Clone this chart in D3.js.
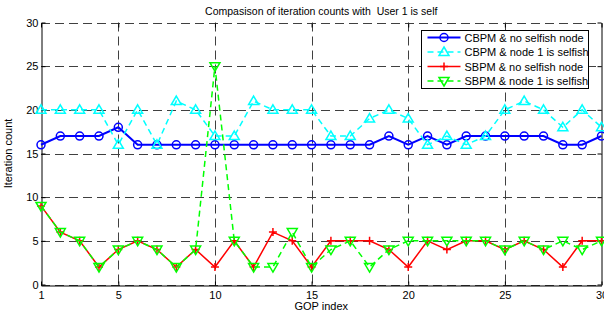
<!DOCTYPE html>
<html>
<head>
<meta charset="utf-8">
<script src="https://cdn.jsdelivr.net/npm/d3@7/dist/d3.min.js"></script>
<style>
  body { margin: 0; background: #fff; }
  svg { font-family: "Liberation Sans", Arial, sans-serif; }
</style>
</head>
<body>
<div id="chart"></div>
<script>
var gopIndex = d3.range(1, 31);
var cbpmNoSelfish = [16,17,17,17,18,16,16,16,16,16,16,16,16,16,16,16,16,16,17,16,17,16,17,17,17,17,17,16,16,17];
var cbpmSelfish   = [20,20,20,20,16,20,16,21,20,17,17,21,20,20,20,17,17,19,20,19,16,17,16,17,20,21,20,18,20,18];
var sbpmNoSelfish = [9,6,5,2,4,5,4,2,4,2,5,2,6,5,2,5,5,5,4,2,5,4,5,5,4,5,4,2,5,5];
var sbpmSelfish   = [9,6,5,2,4,5,4,2,4,25,5,2,2,6,2,4,5,2,4,5,5,5,5,5,4,5,4,5,4,5];
var xTicks = [1,5,10,15,20,25,30];
var yTicks = [0,5,10,15,20,25,30];

var series = [
    { name: "CBPM & no selfish node",  values: cbpmNoSelfish, color: "#0000ff", dash: null,  width: 2,   marker: "circle" },
    { name: "CBPM & node 1 is selfish", values: cbpmSelfish,  color: "#00ffff", dash: "6,4", width: 1.5, marker: "up" },
    { name: "SBPM & no selfish node",  values: sbpmNoSelfish, color: "#ff0000", dash: null,  width: 1.5, marker: "plus" },
    { name: "SBPM & node 1 is selfish", values: sbpmSelfish,  color: "#00ff00", dash: "6,4", width: 1.5, marker: "down" }
];

var W = 604, H = 316;
var margin = { left: 41, right: 2.5, top: 22.5, bottom: 31.5 };

var svg = d3.select("#chart").append("svg")
    .attr("width", W).attr("height", H);

var x = d3.scaleLinear().domain([1, 30]).range([margin.left, W - margin.right]);
var y = d3.scaleLinear().domain([0, 30]).range([H - margin.bottom, margin.top]);

// grid
var grid = svg.append("g").attr("class", "grid")
    .attr("stroke", "#111").attr("stroke-width", 1).attr("stroke-dasharray", "9,5").attr("opacity", 0.8);
grid.selectAll("line.gx").data(xTicks.slice(1, -1)).enter().append("line")
    .attr("x1", function(d){ return Math.round(x(d)) + 0.5; })
    .attr("x2", function(d){ return Math.round(x(d)) + 0.5; })
    .attr("y1", y(30)).attr("y2", y(0));
grid.selectAll("line.gy").data(yTicks).enter().append("line")
    .attr("y1", function(d){ return Math.round(y(d)) + 0.5; })
    .attr("y2", function(d){ return Math.round(y(d)) + 0.5; })
    .attr("x1", x(1)).attr("x2", x(30));

// axes
var xAxis = d3.axisBottom(x).tickValues(xTicks).tickSizeInner(-4).tickSizeOuter(0).tickPadding(6);
var yAxis = d3.axisLeft(y).tickValues(yTicks).tickSizeInner(-4).tickSizeOuter(0).tickPadding(4);

var gx = svg.append("g").attr("transform", "translate(0," + (Math.round(y(0)) + 0.5) + ")").call(xAxis);
var gy = svg.append("g").attr("transform", "translate(" + (Math.round(x(1)) + 0.5) + ",0)").call(yAxis);
[gx, gy].forEach(function(g) {
    g.select(".domain").attr("stroke", "#000");
    g.selectAll(".tick line").attr("stroke", "#000");
    g.selectAll("text").attr("font-size", 11).attr("fill", "#000")
        .attr("font-family", "Liberation Sans, Arial, sans-serif");
});
gy.selectAll("text").attr("dx", 1);

// top and right ticks (box)
var gTop = svg.append("g").attr("transform", "translate(0," + (Math.round(y(30)) + 0.5) + ")")
    .call(d3.axisTop(x).tickValues(xTicks).tickSizeInner(-4).tickSizeOuter(0).tickFormat(""));
gTop.select(".domain").remove();
var gRight = svg.append("g").attr("transform", "translate(" + x(30) + ",0)")
    .call(d3.axisRight(y).tickValues(yTicks).tickSizeInner(-4).tickSizeOuter(0).tickFormat(""));
gRight.select(".domain").attr("stroke", "#000");

// series
function drawMarker(g, type, color) {
    if (type === "circle") {
        g.append("circle").attr("r", 4).attr("fill", "none").attr("stroke", color).attr("stroke-width", 1.5);
    } else if (type === "up") {
        g.append("path").attr("d", "M0,-5 L5,3.5 L-5,3.5 Z").attr("fill", "none").attr("stroke", color).attr("stroke-width", 1.5);
    } else if (type === "down") {
        g.append("path").attr("d", "M0,5 L5,-3.5 L-5,-3.5 Z").attr("fill", "none").attr("stroke", color).attr("stroke-width", 1.5);
    } else if (type === "plus") {
        g.append("path").attr("d", "M-4,0 L4,0 M0,-4 L0,4").attr("stroke", color).attr("stroke-width", 1.5);
    }
}

var line = d3.line()
    .x(function(d, i){ return x(gopIndex[i]); })
    .y(function(d){ return y(d); });

series.forEach(function(s) {
    var g = svg.append("g");
    g.append("path").datum(s.values)
        .attr("d", line)
        .attr("fill", "none")
        .attr("stroke", s.color)
        .attr("stroke-width", s.width)
        .attr("stroke-dasharray", s.dash);
    g.selectAll("g.pt").data(s.values).enter().append("g")
        .attr("transform", function(d, i){ return "translate(" + x(gopIndex[i]) + "," + y(d) + ")"; })
        .each(function(){ drawMarker(d3.select(this), s.marker, s.color); });
});

// legend
var lg = svg.append("g").attr("transform", "translate(421.5,30.5)");
lg.append("rect").attr("width", 167).attr("height", 58).attr("fill", "#fff").attr("stroke", "#000");
series.forEach(function(s, i) {
    var row = lg.append("g").attr("transform", "translate(0," + (7 + i * 14.5) + ")");
    row.append("line").attr("x1", 6).attr("x2", 39)
        .attr("stroke", s.color).attr("stroke-width", s.width).attr("stroke-dasharray", s.dash);
    drawMarker(row.append("g").attr("transform", "translate(22.5,0)"), s.marker, s.color);
    row.append("text").attr("x", 43).attr("y", 4).attr("font-size", 11).text(s.name);
});

// title and labels
svg.append("text").attr("x", (x(1) + x(30)) / 2).attr("y", 15)
    .attr("text-anchor", "middle").attr("font-size", 10.5)
    .style("white-space", "pre")
    .text("Compasison of iteration counts with  User 1 is self");
svg.append("text").attr("x", (x(1) + x(30)) / 2).attr("y", 310)
    .attr("text-anchor", "middle").attr("font-size", 11).text("GOP index");
svg.append("text").attr("transform", "translate(12," + ((y(0) + y(30)) / 2) + ") rotate(-90)")
    .attr("text-anchor", "middle").attr("font-size", 11).text("Iteration count");
</script>
</body>
</html>
